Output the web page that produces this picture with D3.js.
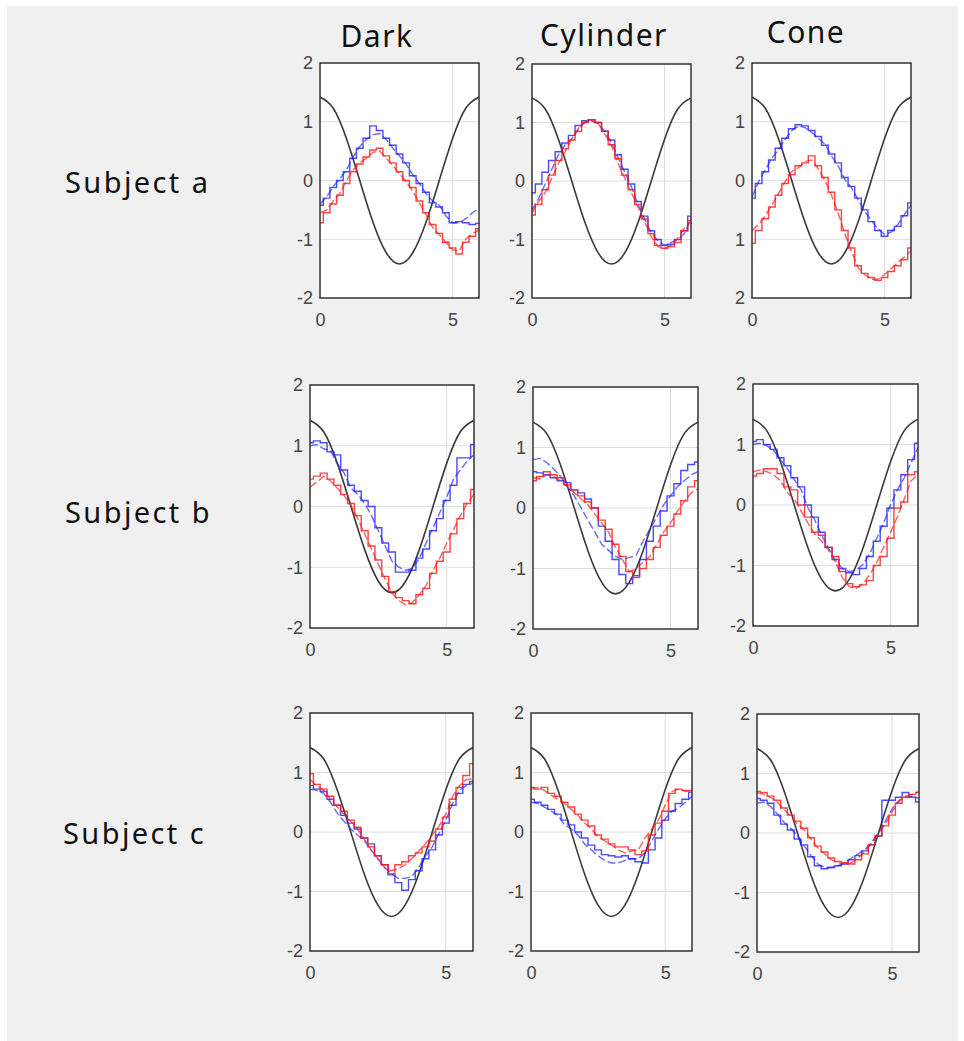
<!DOCTYPE html>
<html>
<head>
<meta charset="utf-8">
<script src="https://cdn.jsdelivr.net/npm/d3@7"></script>
<style>
  body { margin: 0; background: #fff; }
  svg { display: block; }
</style>
</head>
<body>
<script>
const width = 964;
const height = 1041;

const columns = ["Dark", "Cylinder", "Cone"];
const subjects = ["Subject a", "Subject b", "Subject c"];

const xTicks = [0, 5];
const yTicks = [-2, -1, 0, 1, 2];
const yTickText = ["-2", "-1", "0", "1", "2"];
// the Cone / subject a panel lost its minus signs in the source
const yTickTextConeA = ["2", "1", "0", "1", "2"];

// black reference curve (same in every panel)
const refX = [0, 0.5, 1, 1.5, 2, 2.5, 3, 3.5, 4, 4.5, 5, 5.5, 6];
const refY = [1.42, 1.23, 0.71, 0, -0.71, -1.23, -1.42, -1.23, -0.71, 0, 0.71, 1.23, 1.42];

// sample positions for the measured traces
const traceX = [0, 0.25, 0.5, 0.75, 1, 1.25, 1.5, 1.75, 2, 2.25, 2.5, 2.75, 3,
  3.25, 3.5, 3.75, 4, 4.25, 4.5, 4.75, 5, 5.25, 5.5, 5.75, 6];

// panel order: a-Dark, a-Cylinder, a-Cone, b-Dark, ... c-Cone
const blue1 = [
  [-0.42,-0.3,-0.12,0.0,0.15,0.38,0.55,0.72,0.93,0.85,0.72,0.6,0.45,0.3,0.08,-0.05,-0.2,-0.38,-0.45,-0.55,-0.72,-0.7,-0.72,-0.75,-0.73],
  [-0.2,-0.05,0.15,0.35,0.5,0.65,0.78,0.95,1.03,1.05,1.0,0.85,0.7,0.45,0.2,-0.05,-0.35,-0.6,-0.85,-1.0,-1.1,-1.08,-1.0,-0.85,-0.6],
  [-0.3,-0.05,0.15,0.35,0.55,0.72,0.88,0.95,0.93,0.85,0.75,0.6,0.45,0.3,0.05,-0.1,-0.3,-0.5,-0.7,-0.85,-0.95,-0.85,-0.78,-0.6,-0.38],
  [1.05,1.08,1.05,0.9,0.85,0.6,0.35,0.25,0.1,0.0,-0.35,-0.6,-0.75,-1.08,-1.08,-1.05,-0.85,-0.7,-0.4,-0.2,0.1,0.35,0.8,0.8,1.02],
  [0.6,0.58,0.55,0.5,0.45,0.42,0.3,0.25,0.15,0.0,-0.3,-0.55,-0.85,-1.1,-1.25,-1.12,-0.85,-0.55,-0.3,-0.05,0.2,0.4,0.62,0.72,0.76],
  [1.05,1.08,1.0,0.92,0.78,0.65,0.45,0.3,0.0,-0.2,-0.45,-0.7,-0.9,-1.05,-1.12,-1.15,-1.05,-0.85,-0.6,-0.35,-0.05,0.25,0.5,0.75,1.02],
  [0.78,0.72,0.68,0.55,0.45,0.28,0.15,0.05,-0.1,-0.2,-0.4,-0.55,-0.72,-0.85,-0.98,-0.8,-0.65,-0.45,-0.3,-0.05,0.15,0.45,0.65,0.8,0.85],
  [0.55,0.5,0.45,0.38,0.3,0.2,0.12,0.0,-0.1,-0.22,-0.3,-0.38,-0.4,-0.42,-0.4,-0.45,-0.5,-0.52,-0.3,-0.1,0.2,0.35,0.48,0.55,0.67],
  [0.58,0.55,0.5,0.3,0.15,0.05,-0.1,-0.2,-0.4,-0.55,-0.6,-0.58,-0.55,-0.52,-0.45,-0.38,-0.3,-0.2,-0.05,0.55,0.55,0.6,0.68,0.6,0.52]
];
const blue2 = [
  [-0.4,-0.28,-0.1,0.03,0.18,0.4,0.58,0.7,0.78,0.8,0.7,0.55,0.42,0.28,0.1,-0.05,-0.22,-0.35,-0.42,-0.6,-0.72,-0.72,-0.65,-0.55,-0.47],
  [-0.5,-0.3,-0.05,0.2,0.45,0.62,0.72,0.9,1.0,1.03,0.98,0.85,0.65,0.4,0.15,-0.1,-0.4,-0.65,-0.88,-1.02,-1.1,-1.05,-1.0,-0.9,-0.65],
  [-0.28,-0.02,0.18,0.38,0.52,0.7,0.85,0.93,0.9,0.82,0.72,0.62,0.42,0.25,0.02,-0.12,-0.32,-0.52,-0.68,-0.82,-0.92,-0.88,-0.75,-0.58,-0.42],
  [1.0,1.02,0.95,0.92,0.7,0.55,0.3,0.2,0.05,-0.15,-0.4,-0.65,-0.9,-1.0,-1.05,-1.02,-0.85,-0.6,-0.35,-0.1,0.15,0.45,0.6,0.75,0.85],
  [0.8,0.82,0.75,0.65,0.52,0.35,0.2,0.0,-0.2,-0.4,-0.6,-0.7,-0.8,-0.85,-0.82,-0.78,-0.55,-0.35,-0.15,0.05,0.2,0.35,0.45,0.55,0.6],
  [1.0,1.02,0.98,0.9,0.75,0.6,0.42,0.25,-0.05,-0.25,-0.5,-0.72,-0.92,-1.05,-1.1,-1.08,-0.98,-0.8,-0.55,-0.3,0.0,0.25,0.45,0.7,0.95],
  [0.72,0.7,0.65,0.5,0.32,0.18,0.05,-0.05,-0.15,-0.3,-0.45,-0.6,-0.7,-0.78,-0.78,-0.75,-0.6,-0.4,-0.25,-0.02,0.2,0.48,0.7,0.78,0.82],
  [0.5,0.48,0.42,0.35,0.28,0.12,0.05,-0.05,-0.2,-0.3,-0.4,-0.48,-0.52,-0.52,-0.48,-0.45,-0.45,-0.35,-0.15,0.05,0.22,0.35,0.4,0.5,0.6],
  [0.5,0.52,0.45,0.32,0.18,0.08,-0.05,-0.22,-0.38,-0.52,-0.58,-0.58,-0.55,-0.5,-0.42,-0.35,-0.28,-0.15,0.0,0.2,0.4,0.55,0.6,0.62,0.58]
];
const red1 = [
  [-0.72,-0.55,-0.4,-0.25,-0.05,0.15,0.28,0.4,0.52,0.55,0.42,0.3,0.15,0.0,-0.12,-0.35,-0.55,-0.75,-0.9,-1.05,-1.15,-1.25,-1.05,-0.95,-0.82],
  [-0.58,-0.4,-0.15,0.1,0.35,0.55,0.7,0.85,1.0,1.05,1.0,0.85,0.62,0.38,0.1,-0.15,-0.4,-0.65,-0.9,-1.1,-1.15,-1.12,-1.05,-0.85,-0.68],
  [-1.07,-0.85,-0.65,-0.45,-0.25,-0.05,0.1,0.25,0.3,0.42,0.25,0.05,-0.2,-0.5,-0.85,-1.15,-1.45,-1.58,-1.65,-1.7,-1.65,-1.55,-1.45,-1.35,-1.15],
  [0.45,0.5,0.55,0.45,0.35,0.2,0.05,-0.15,-0.4,-0.65,-0.88,-1.15,-1.4,-1.5,-1.55,-1.6,-1.45,-1.35,-1.1,-0.9,-0.75,-0.45,-0.2,0.05,0.28],
  [0.45,0.52,0.6,0.55,0.5,0.38,0.3,0.2,0.1,0.0,-0.2,-0.35,-0.6,-0.8,-1.05,-1.15,-1.0,-0.85,-0.65,-0.45,-0.3,-0.1,0.12,0.35,0.45],
  [0.48,0.52,0.6,0.6,0.52,0.3,0.25,0.0,-0.2,-0.45,-0.5,-0.7,-0.85,-1.1,-1.3,-1.35,-1.32,-1.25,-1.0,-0.85,-0.55,-0.05,0.05,0.5,0.55],
  [0.98,0.8,0.72,0.6,0.45,0.35,0.2,0.08,-0.1,-0.25,-0.4,-0.55,-0.7,-0.55,-0.5,-0.4,-0.35,-0.25,-0.15,0.05,0.25,0.55,0.75,0.95,1.15],
  [0.75,0.72,0.75,0.65,0.6,0.5,0.42,0.3,0.2,0.1,-0.05,-0.12,-0.2,-0.25,-0.25,-0.3,-0.38,-0.32,-0.05,0.15,0.35,0.65,0.72,0.7,0.7],
  [0.7,0.68,0.62,0.55,0.42,0.3,0.2,0.08,-0.08,-0.22,-0.32,-0.42,-0.48,-0.5,-0.52,-0.45,-0.35,-0.2,-0.05,0.12,0.3,0.5,0.6,0.65,0.68]
];
const red2 = [
  [-0.55,-0.5,-0.35,-0.22,0.0,0.18,0.3,0.38,0.48,0.5,0.38,0.25,0.12,-0.02,-0.18,-0.38,-0.58,-0.8,-0.92,-1.05,-1.18,-1.2,-1.0,-0.9,-0.85],
  [-0.55,-0.35,-0.2,0.05,0.3,0.5,0.72,0.88,1.02,1.04,0.98,0.8,0.6,0.3,0.05,-0.2,-0.45,-0.7,-0.95,-1.12,-1.15,-1.1,-0.98,-0.8,-0.7],
  [-0.85,-0.75,-0.6,-0.42,-0.22,-0.02,0.15,0.22,0.32,0.35,0.2,0.0,-0.25,-0.55,-0.9,-1.2,-1.48,-1.6,-1.68,-1.68,-1.6,-1.5,-1.4,-1.3,-1.2],
  [0.32,0.4,0.5,0.42,0.3,0.18,0.02,-0.2,-0.45,-0.7,-0.95,-1.2,-1.42,-1.55,-1.62,-1.58,-1.45,-1.3,-1.05,-0.85,-0.6,-0.38,-0.15,0.05,0.2],
  [0.5,0.48,0.55,0.52,0.45,0.35,0.25,0.15,0.05,-0.1,-0.25,-0.4,-0.65,-0.85,-1.05,-1.0,-0.9,-0.8,-0.6,-0.4,-0.25,-0.05,0.1,0.25,0.32],
  [0.55,0.58,0.55,0.5,0.4,0.2,0.1,-0.1,-0.3,-0.48,-0.6,-0.75,-0.95,-1.2,-1.35,-1.38,-1.3,-1.15,-0.95,-0.7,-0.45,-0.2,0.1,0.4,0.5],
  [0.88,0.78,0.7,0.55,0.42,0.3,0.18,0.05,-0.12,-0.3,-0.45,-0.6,-0.65,-0.62,-0.55,-0.45,-0.32,-0.2,-0.05,0.1,0.3,0.6,0.78,0.88,0.9],
  [0.72,0.75,0.7,0.62,0.55,0.48,0.38,0.28,0.15,0.05,-0.08,-0.15,-0.22,-0.3,-0.35,-0.32,-0.3,-0.1,0.05,0.2,0.45,0.68,0.72,0.68,0.7],
  [0.68,0.65,0.6,0.52,0.4,0.28,0.15,0.05,-0.1,-0.25,-0.35,-0.45,-0.5,-0.52,-0.5,-0.42,-0.3,-0.18,0.0,0.15,0.35,0.52,0.62,0.65,0.7]
];

// panel boxes [left, top, right, bottom] as laid out in the figure
const boxes = [
  [320, 63, 479, 298], [532, 64, 691, 298], [752, 63, 911, 298],
  [310, 385, 474, 628], [533, 387, 698, 629], [753, 384, 918, 626],
  [310, 713, 473, 951], [531, 713, 692, 951], [757, 714, 919, 952]
];
const titlePos = [[377, 47], [604, 46], [806, 43]];
const subjectPos = [[65, 193], [65, 523], [63, 844]];

const labelFont = "'Noto Sans', 'DejaVu Sans', sans-serif";
const tickFont = "'Liberation Sans', Arial, sans-serif";

const svg = d3.select("body").append("svg")
  .attr("width", width)
  .attr("height", height);

svg.append("rect").attr("width", width).attr("height", height).attr("fill", "#fff");
svg.append("rect")
  .attr("x", 7).attr("y", 6)
  .attr("width", 951).attr("height", height - 6)
  .attr("fill", "#f0f0f0");

svg.selectAll("text.col")
  .data(columns)
  .join("text")
  .attr("class", "col")
  .attr("x", (d, i) => titlePos[i][0])
  .attr("y", (d, i) => titlePos[i][1])
  .attr("text-anchor", "middle")
  .attr("font-family", labelFont)
  .attr("font-size", 30)
  .attr("letter-spacing", 1.5)
  .attr("fill", "#111")
  .text(d => d);

svg.selectAll("text.subj")
  .data(subjects)
  .join("text")
  .attr("class", "subj")
  .attr("x", (d, i) => subjectPos[i][0])
  .attr("y", (d, i) => subjectPos[i][1])
  .attr("font-family", labelFont)
  .attr("font-size", 29)
  .attr("letter-spacing", 2.4)
  .attr("fill", "#111")
  .text(d => d);

boxes.forEach((b, i) => {
  const [x0, y0, x1, y1] = b;
  const x = d3.scaleLinear().domain([0, 6]).range([x0, x1]);
  const y = d3.scaleLinear().domain([-2, 2]).range([y1, y0]);
  const g = svg.append("g");

  g.append("clipPath").attr("id", "clip" + i)
    .append("rect").attr("x", x0).attr("y", y0)
    .attr("width", x1 - x0).attr("height", y1 - y0);

  g.append("rect")
    .attr("x", x0).attr("y", y0)
    .attr("width", x1 - x0).attr("height", y1 - y0)
    .attr("fill", "#fff");

  // grid
  g.selectAll("line.hg")
    .data([-1, 0, 1])
    .join("line")
    .attr("x1", x0).attr("x2", x1)
    .attr("y1", d => y(d)).attr("y2", d => y(d))
    .attr("stroke", "#dedede").attr("stroke-width", 1);
  g.append("line")
    .attr("x1", x(5)).attr("x2", x(5))
    .attr("y1", y0).attr("y2", y1)
    .attr("stroke", "#dedede").attr("stroke-width", 1);

  const plot = g.append("g").attr("clip-path", `url(#clip${i})`);

  const refLine = d3.line()
    .x((d, k) => x(refX[k]))
    .y(d => y(d))
    .curve(d3.curveNatural);
  plot.append("path")
    .attr("d", refLine(refY))
    .attr("fill", "none")
    .attr("stroke", "#3a3a3a")
    .attr("stroke-width", 1.6);

  const stepLine = d3.line()
    .x((d, k) => x(traceX[k]))
    .y(d => y(d))
    .curve(d3.curveStep);
  const plainLine = d3.line()
    .x((d, k) => x(traceX[k]))
    .y(d => y(d));

  const traces = [
    {v: blue2[i], c: "rgba(40,40,255,0.7)", gen: plainLine, dash: "8,3"},
    {v: blue1[i], c: "rgba(30,30,255,0.8)", gen: stepLine, dash: null},
    {v: red2[i], c: "rgba(255,30,30,0.7)", gen: plainLine, dash: "8,3"},
    {v: red1[i], c: "rgba(255,20,20,0.8)", gen: stepLine, dash: null}
  ];
  traces.forEach(t => {
    plot.append("path")
      .attr("d", t.gen(t.v))
      .attr("fill", "none")
      .attr("stroke", t.c)
      .attr("stroke-width", 1.4)
      .attr("stroke-dasharray", t.dash);
  });

  // axes
  const labels = i === 2 ? yTickTextConeA : yTickText;
  const ya = g.append("g")
    .attr("transform", `translate(${x0},0)`)
    .call(d3.axisLeft(y).tickValues(yTicks).tickSize(0).tickPadding(7)
      .tickFormat((d, k) => labels[k]));
  const xa = g.append("g")
    .attr("transform", `translate(0,${y1})`)
    .call(d3.axisBottom(x).tickValues(xTicks).tickSize(0).tickPadding(15)
      .tickFormat(d3.format("d")));
  [ya, xa].forEach(a => {
    a.select(".domain").remove();
    a.selectAll("text")
      .attr("font-family", tickFont)
      .attr("font-size", 18)
      .attr("fill", "#444");
  });

  g.append("rect")
    .attr("x", x0).attr("y", y0)
    .attr("width", x1 - x0).attr("height", y1 - y0)
    .attr("fill", "none")
    .attr("stroke", "#333")
    .attr("stroke-width", 1.5);
});
</script>
</body>
</html>
